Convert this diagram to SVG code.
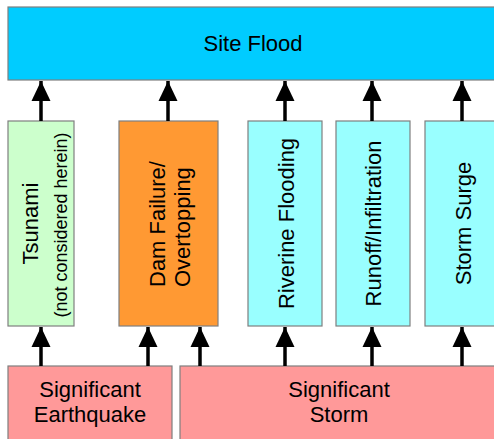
<svg xmlns="http://www.w3.org/2000/svg" width="494" height="439" viewBox="0 0 494 439">
  <defs>
    <style>
      .box { stroke: #7f7f7f; stroke-width: 1.2; }
      .t { font-family: "Liberation Sans", Arial, sans-serif; font-size: 22px; fill: #000; }
      .s { font-family: "Liberation Sans", Arial, sans-serif; font-size: 18px; fill: #000; }
      .c { stroke: #000; stroke-width: 3.5; fill: none; marker-end: url(#ah); }
    </style>
    <marker id="ah" viewBox="0 0 20 20" refX="20" refY="10" markerWidth="20" markerHeight="20" markerUnits="userSpaceOnUse" orient="auto">
      <path d="M0,0.5 L20,10 L0,19.5 Z" fill="#000"/>
    </marker>
  </defs>
  <rect width="494" height="439" fill="#fff"/>

  <g id="site-flood">
    <rect class="box" x="8" y="7" width="490" height="73" fill="#00CCFF" stroke="#2a6f86"/>
    <text class="t" x="253" y="51" text-anchor="middle">Site Flood</text>
  </g>

  <g id="tsunami">
    <rect class="box" x="8" y="121" width="66" height="205" fill="#CCFFCC"/>
    <text class="t" transform="translate(38,223.5) rotate(-90)" text-anchor="middle">Tsunami</text>
    <text class="s" transform="translate(67,225) rotate(-90)" text-anchor="middle">(not considered herein)</text>
  </g>

  <g id="dam-failure">
    <rect class="box" x="119" y="121" width="99" height="205" fill="#FF9933"/>
    <text class="t" transform="translate(165,287) rotate(-90)">Dam Failure/</text>
    <text class="t" transform="translate(190,287) rotate(-90)">Overtopping</text>
  </g>

  <g id="riverine">
    <rect class="box" x="248" y="121" width="74" height="205" fill="#99FFFF"/>
    <text class="t" transform="translate(293.5,223.5) rotate(-90)" text-anchor="middle">Riverine Flooding</text>
  </g>

  <g id="runoff">
    <rect class="box" x="336" y="121" width="74" height="205" fill="#99FFFF"/>
    <text class="t" transform="translate(380.5,223.5) rotate(-90)" text-anchor="middle">Runoff/Infiltration</text>
  </g>

  <g id="storm-surge">
    <rect class="box" x="425" y="121" width="75" height="205" fill="#99FFFF"/>
    <text class="t" transform="translate(470.5,223.5) rotate(-90)" text-anchor="middle">Storm Surge</text>
  </g>

  <g id="earthquake">
    <rect class="box" x="8" y="366" width="164" height="80" fill="#FF9999"/>
    <text class="t" x="90" y="397" text-anchor="middle">Significant</text>
    <text class="t" x="90" y="422" text-anchor="middle">Earthquake</text>
  </g>

  <g id="storm">
    <rect class="box" x="180" y="366" width="320" height="80" fill="#FF9999"/>
    <text class="t" x="339" y="397" text-anchor="middle">Significant</text>
    <text class="t" x="339" y="422" text-anchor="middle">Storm</text>
  </g>

  <g id="connectors">
    <line class="c" x1="41" y1="121" x2="41" y2="81"/>
    <line class="c" x1="168" y1="121" x2="168" y2="81"/>
    <line class="c" x1="285" y1="121" x2="285" y2="81"/>
    <line class="c" x1="372" y1="121" x2="372" y2="81"/>
    <line class="c" x1="462" y1="121" x2="462" y2="81"/>
    <line class="c" x1="41" y1="366" x2="41" y2="327"/>
    <line class="c" x1="148" y1="366" x2="148" y2="327"/>
    <line class="c" x1="200" y1="366" x2="200" y2="327"/>
    <line class="c" x1="285" y1="366" x2="285" y2="327"/>
    <line class="c" x1="372" y1="366" x2="372" y2="327"/>
    <line class="c" x1="462" y1="366" x2="462" y2="327"/>
  </g>
</svg>
